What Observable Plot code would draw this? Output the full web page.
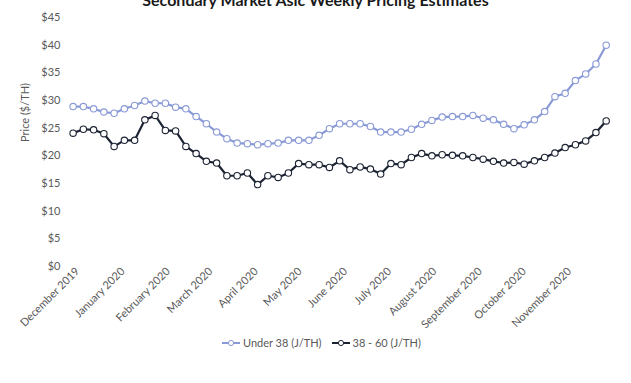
<!DOCTYPE html>
<html><head><meta charset="utf-8">
<script src="https://cdn.jsdelivr.net/npm/d3@7"></script>
<script src="https://cdn.jsdelivr.net/npm/@observablehq/plot@0.6"></script>
<style>
body{margin:0;background:#fff;font-family:Lato,"Open Sans",sans-serif}
#wrap{position:relative;width:631px;height:383px;overflow:hidden}
#title{position:absolute;top:-10px;left:0;width:631px;text-align:center;font-weight:bold;font-size:16px;color:#1a1a1a;z-index:2}
#legend{position:absolute;top:336px;left:222px;font-size:11px;color:#595959;display:flex;align-items:center;gap:10px;z-index:2}
#legend span{display:flex;align-items:center;gap:3px}
</style></head>
<body>
<div id="wrap">
<div id="title">Secondary Market Asic Weekly Pricing Estimates</div>
<div id="chart"></div>
<div id="legend"></div>
</div>
<script>
const dates = ["2019-11-28","2019-12-05","2019-12-12","2019-12-19","2019-12-26",
"2020-01-02","2020-01-09","2020-01-16","2020-01-23","2020-01-30",
"2020-02-06","2020-02-13","2020-02-20","2020-02-27",
"2020-03-05","2020-03-12","2020-03-19","2020-03-26",
"2020-04-02","2020-04-09","2020-04-16","2020-04-23","2020-04-30",
"2020-05-07","2020-05-14","2020-05-21","2020-05-28",
"2020-06-04","2020-06-11","2020-06-18","2020-06-25",
"2020-07-02","2020-07-09","2020-07-16","2020-07-23","2020-07-30",
"2020-08-06","2020-08-13","2020-08-20","2020-08-27",
"2020-09-03","2020-09-10","2020-09-17","2020-09-24",
"2020-10-01","2020-10-08","2020-10-15","2020-10-22","2020-10-29",
"2020-11-05","2020-11-12","2020-11-19","2020-11-26"];
const under38 = [28.9,28.9,28.5,27.9,27.7,28.5,29.1,29.9,29.5,29.5,
28.8,28.5,27.1,25.8,24.3,23.1,22.3,22.2,22.0,22.2,
22.3,22.8,22.8,22.8,23.7,24.9,25.8,25.8,25.8,25.3,
24.3,24.3,24.3,24.8,25.7,26.4,27.0,27.1,27.1,27.3,
26.8,26.5,25.7,24.9,25.6,26.5,28.0,30.7,31.3,33.6,
34.8,36.6,40.0];
const mid3860 = [24.1,24.8,24.7,24.0,21.7,22.8,22.8,26.5,27.3,24.6,
24.5,21.7,20.4,19.0,18.7,16.4,16.4,16.9,14.8,16.4,
16.1,16.9,18.6,18.4,18.4,17.9,19.1,17.5,18.0,17.6,
16.7,18.6,18.4,19.7,20.4,20.0,20.2,20.1,20.0,19.7,
19.4,19.0,18.7,18.8,18.5,19.1,19.7,20.5,21.5,22.0,
22.7,24.2,26.3];
const seriesNames = ["Under 38 (J/TH)","38 - 60 (J/TH)"];
const seriesColors = ["#8a9ad6","#1c2333"];
const monthTicks = ["2019-12-01","2020-01-01","2020-02-01","2020-03-01","2020-04-01","2020-05-01",
"2020-06-01","2020-07-01","2020-08-01","2020-09-01","2020-10-01","2020-11-01"];
const yTicks = [0,5,10,15,20,25,30,35,40,45];

const rows = [];
dates.forEach((d,i)=>{
  rows.push({date:new Date(d), value:under38[i], series:seriesNames[0]});
  rows.push({date:new Date(d), value:mid3860[i], series:seriesNames[1]});
});

const chart = Plot.plot({
  width:631, height:383,
  marginLeft:77, marginRight:18, marginTop:17, marginBottom:117,
  style:{fontFamily:"Lato, 'Open Sans', sans-serif", fontSize:"11px", color:"#595959", background:"transparent"},
  x:{type:"utc", domain:[new Date("2019-12-01"), new Date("2020-12-01")],
     ticks: monthTicks.map(d=>new Date(d)), tickFormat: d3.utcFormat("%B %Y"),
     tickRotate:-45, tickSize:0, tickPadding:3, label:null},
  y:{domain:[0,45], ticks:yTicks, tickFormat:d=>"$"+d, tickSize:0, tickPadding:17, label:null},
  color:{domain:seriesNames, range:seriesColors},
  marks:[
    Plot.line(rows,{x:"date", y:"value", z:"series", stroke:"series", strokeWidth:2.2}),
    Plot.dot(rows,{x:"date", y:"value", stroke:"series", fill:"white", r:3.2, strokeWidth:1.1}),
    Plot.text(["Price ($/TH)"],{frameAnchor:"left", rotate:-90, dx:-52, fill:"#595959", fontSize:11})
  ]
});
document.getElementById("chart").appendChild(chart);

const legend = document.getElementById("legend");
seriesNames.forEach((n,i)=>{
  const s = document.createElement("span");
  s.innerHTML = `<svg width="18" height="8"><line x1="0" y1="4" x2="18" y2="4" stroke="${seriesColors[i]}" stroke-width="2"/><circle cx="9" cy="4" r="2.6" fill="white" stroke="${seriesColors[i]}" stroke-width="1"/></svg>${n}`;
  legend.appendChild(s);
});
</script>
</body></html>
